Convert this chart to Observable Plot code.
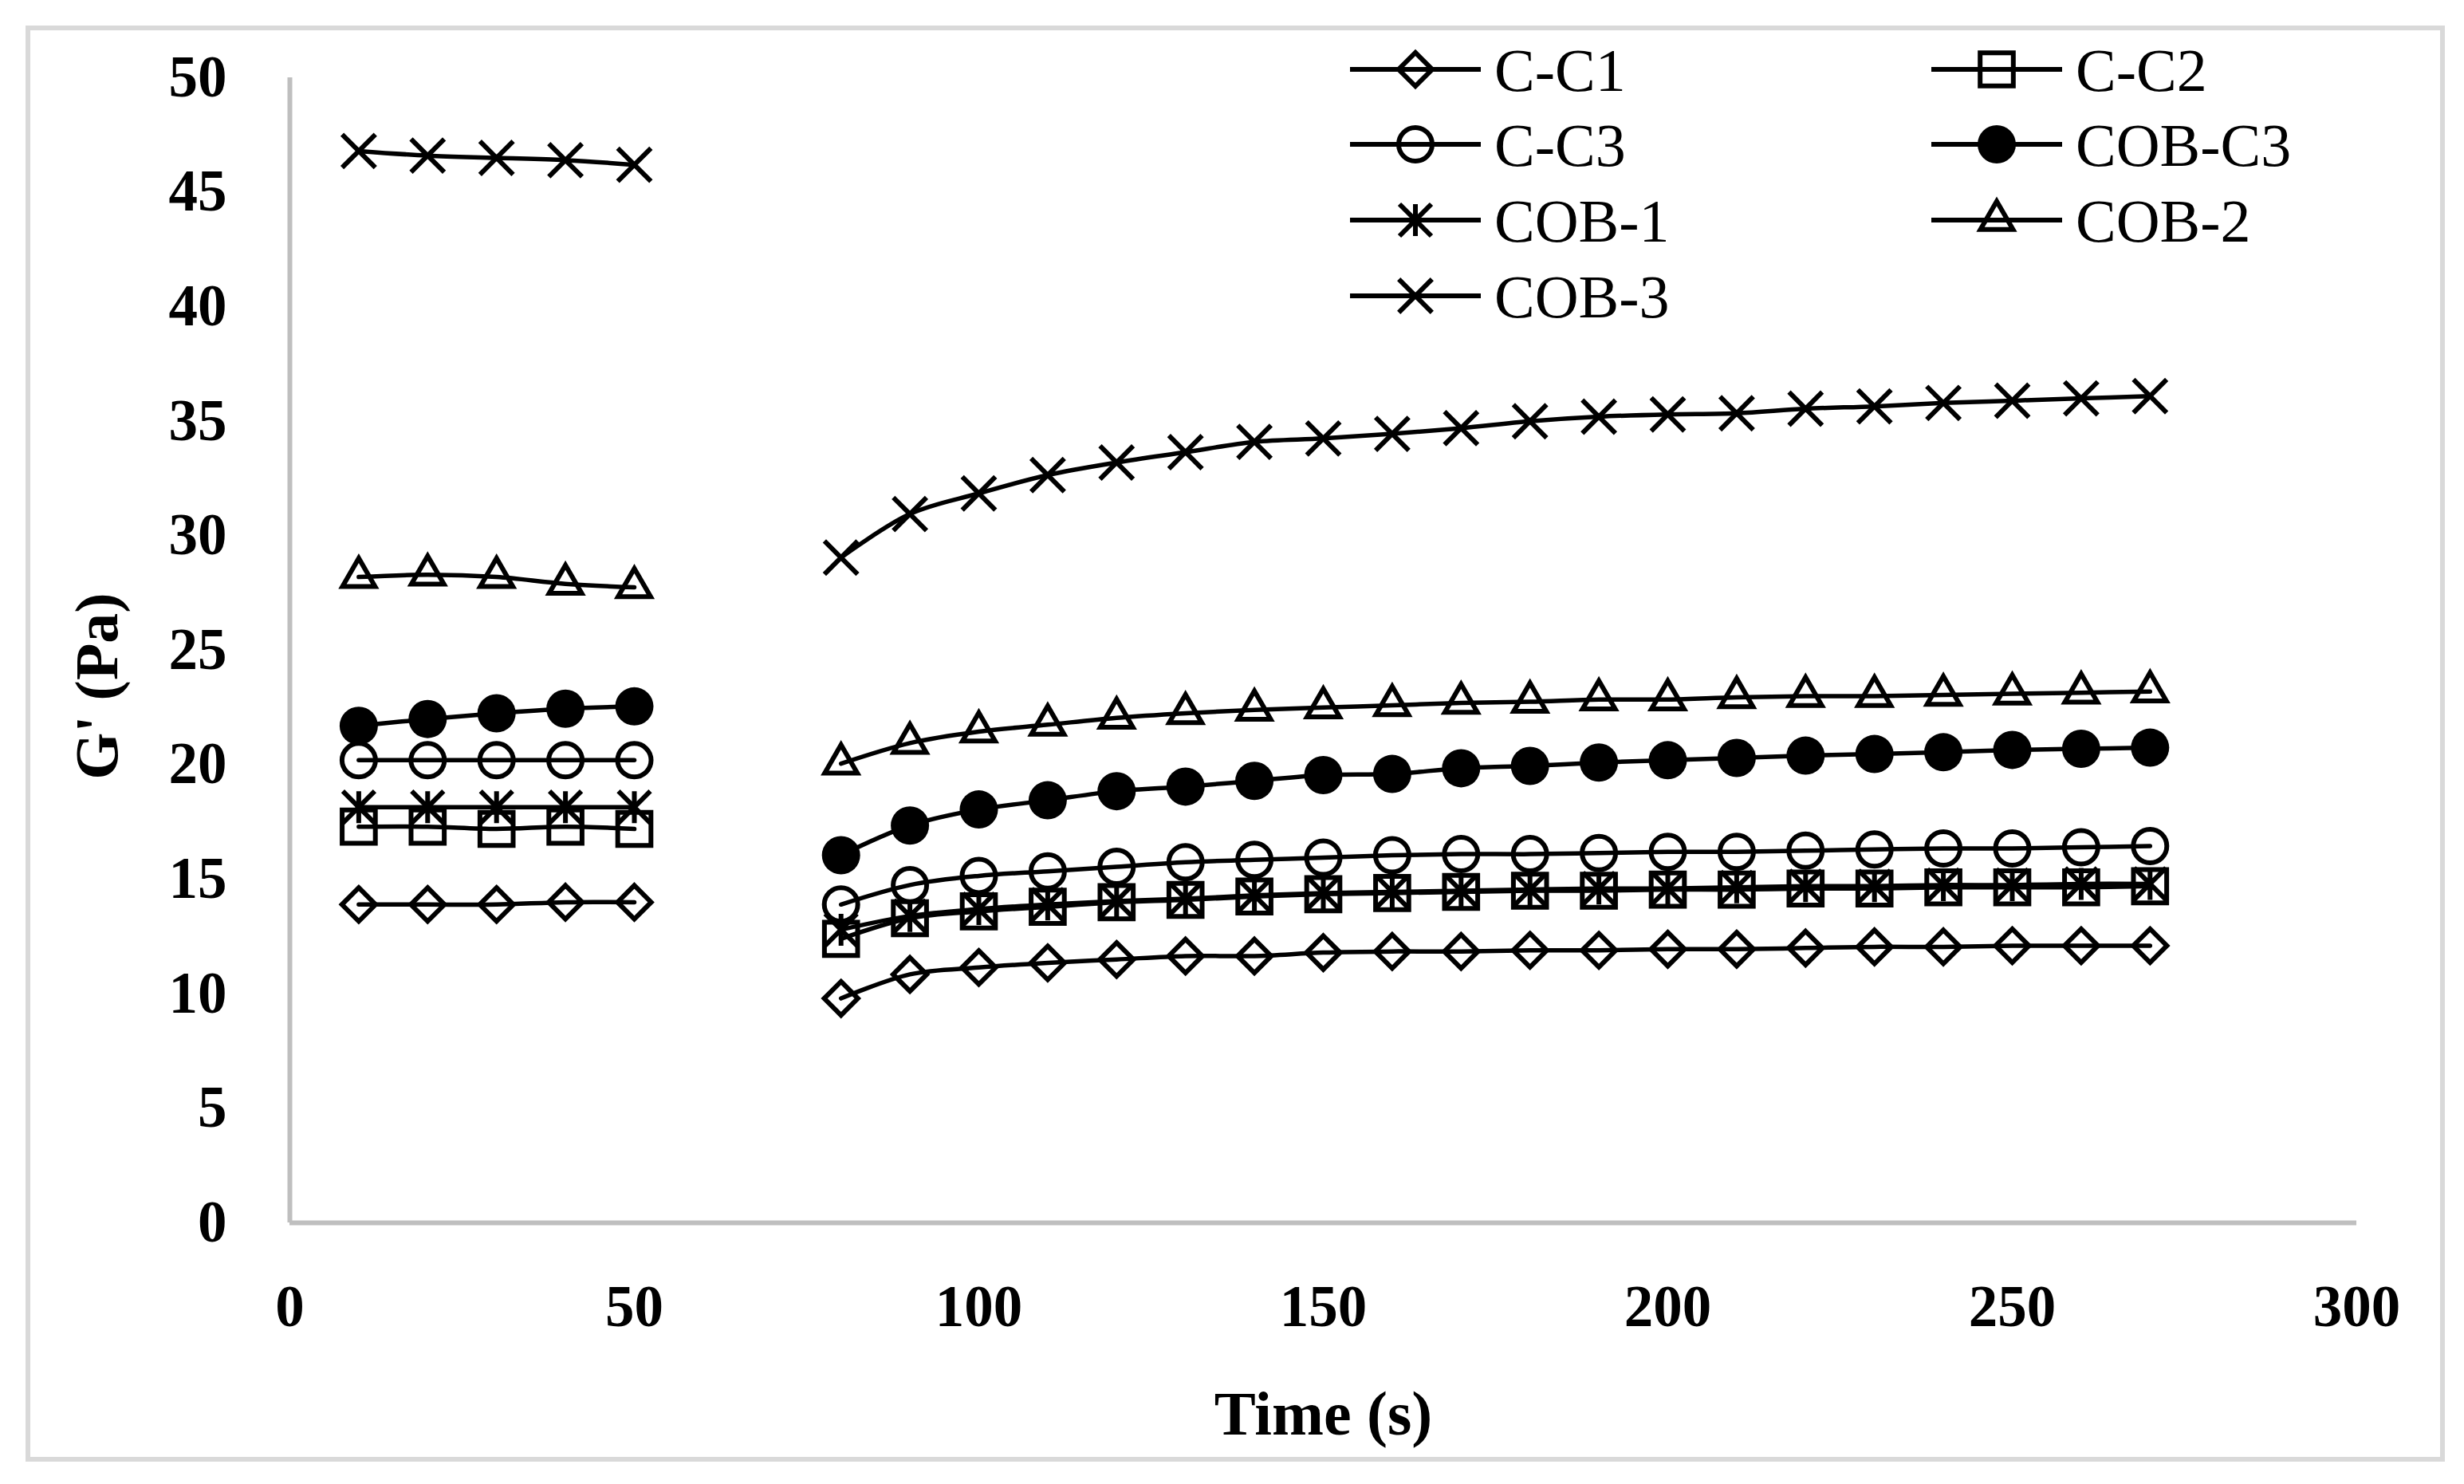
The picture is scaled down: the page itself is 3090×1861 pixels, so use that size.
<!DOCTYPE html>
<html>
<head>
<meta charset="utf-8">
<script src="https://cdn.jsdelivr.net/npm/d3@7"></script>
<script src="https://cdn.jsdelivr.net/npm/@observablehq/plot@0.6"></script>
<style>
  body { margin: 0; background: #fff; }
  #wrap { position: relative; width: 3090px; height: 1861px; }
  #border { position: absolute; left: 32px; top: 32px; width: 3022px; height: 1789px;
            border: 6px solid #d9d9d9; pointer-events: none; }
  #legend { position: absolute; left: 0; top: 0; pointer-events: none; }
</style>
</head>
<body>
<div id="wrap">
  <div id="chart"></div>
  <div id="border"></div>
</div>
<script>
// time points, two runs with a gap between them
const timesA = [10, 20, 30, 40, 50];
const timesB = [80, 90, 100, 110, 120, 130, 140, 150, 160, 170, 180, 190, 200, 210, 220, 230, 240, 250, 260, 270];

const seriesNames = ["C-C1", "C-C2", "C-C3", "COB-C3", "COB-1", "COB-2", "COB-3"];

// G' (Pa), first run
const cc1A   = [13.9, 13.9, 13.9, 14.0, 14.0];
const cc2A   = [17.3, 17.3, 17.2, 17.3, 17.2];
const cc3A   = [20.2, 20.2, 20.2, 20.2, 20.2];
const cobc3A = [21.7, 22.0, 22.25, 22.45, 22.55];
const cob1A  = [18.15, 18.15, 18.15, 18.15, 18.15];
const cob2A  = [28.2, 28.3, 28.2, 27.9, 27.75];
const cob3A  = [46.8, 46.6, 46.5, 46.4, 46.2];

// G' (Pa), second run
const cc1B   = [9.8, 10.85, 11.15, 11.35, 11.5, 11.65, 11.65, 11.8, 11.85, 11.85, 11.9, 11.9, 11.95, 11.95, 12.0, 12.05, 12.05, 12.1, 12.1, 12.1];
const cc2B   = [12.4, 13.3, 13.6, 13.8, 14.0, 14.1, 14.25, 14.35, 14.4, 14.45, 14.5, 14.5, 14.55, 14.55, 14.6, 14.6, 14.65, 14.65, 14.65, 14.7];
const cc3B   = [13.9, 14.75, 15.15, 15.35, 15.55, 15.75, 15.85, 15.95, 16.05, 16.1, 16.1, 16.15, 16.2, 16.2, 16.25, 16.3, 16.35, 16.35, 16.4, 16.45];
const cobc3B = [16.05, 17.35, 18.05, 18.45, 18.85, 19.05, 19.3, 19.55, 19.6, 19.85, 19.95, 20.1, 20.2, 20.3, 20.4, 20.47, 20.55, 20.65, 20.7, 20.75];
const cob1B  = [12.8, 13.4, 13.7, 13.9, 14.05, 14.15, 14.3, 14.4, 14.45, 14.5, 14.55, 14.6, 14.6, 14.65, 14.7, 14.7, 14.75, 14.75, 14.8, 14.8];
const cob2B  = [20.05, 20.95, 21.45, 21.75, 22.05, 22.25, 22.4, 22.5, 22.6, 22.7, 22.75, 22.85, 22.85, 22.95, 23.0, 23.0, 23.05, 23.1, 23.15, 23.2];
const cob3B  = [29.05, 30.95, 31.85, 32.65, 33.2, 33.65, 34.1, 34.25, 34.45, 34.7, 35.0, 35.2, 35.3, 35.35, 35.55, 35.65, 35.8, 35.9, 36.0, 36.1];

const xTicks = [0, 50, 100, 150, 200, 250, 300];
const yTicks = [0, 5, 10, 15, 20, 25, 30, 35, 40, 45, 50];

const valuesA = {"C-C1": cc1A, "C-C2": cc2A, "C-C3": cc3A, "COB-C3": cobc3A, "COB-1": cob1A, "COB-2": cob2A, "COB-3": cob3A};
const valuesB = {"C-C1": cc1B, "C-C2": cc2B, "C-C3": cc3B, "COB-C3": cobc3B, "COB-1": cob1B, "COB-2": cob2B, "COB-3": cob3B};

// excel style asterisk: a vertical bar plus an X
const excelStar = {
  draw(context, size) {
    const r = Math.sqrt(size / Math.PI);
    context.moveTo(0, -r); context.lineTo(0, r);
    context.moveTo(-r, -r); context.lineTo(r, r);
    context.moveTo(-r, r); context.lineTo(r, -r);
  }
};

// marker look per series
const markers = {
  "C-C1":   {symbol: "diamond2",  r: 19,   filled: false},
  "C-C2":   {symbol: "square2",   r: 26.5, filled: false},
  "C-C3":   {symbol: "circle",    r: 21,   filled: false},
  "COB-C3": {symbol: "circle",    r: 24,   filled: true},
  "COB-1":  {symbol: excelStar,   r: 20,   filled: false},
  "COB-2":  {symbol: "triangle2", r: 19.5, filled: false},
  "COB-3":  {symbol: "times",     r: 19,   filled: false}
};

const rows = [];
seriesNames.forEach(s => {
  timesA.forEach((t, i) => rows.push({series: s, run: "A", t, v: valuesA[s][i]}));
  timesB.forEach((t, i) => rows.push({series: s, run: "B", t, v: valuesB[s][i]}));
});

const marks = [
  Plot.ruleX([0], {stroke: "#bfbfbf", strokeWidth: 6}),
  Plot.ruleY([0], {stroke: "#bfbfbf", strokeWidth: 6}),
  Plot.axisX(xTicks, {tickSize: 0, tickPadding: 78, fontSize: 73, fontWeight: "bold", label: null}),
  Plot.axisY(yTicks, {tickSize: 0, tickPadding: 79, fontSize: 73, fontWeight: "bold", label: null}),
  Plot.text(["Time (s)"], {frameAnchor: "bottom", lineAnchor: "middle", dy: 241, fontSize: 78, fontWeight: "bold"}),
  Plot.text(["G' (Pa)"], {frameAnchor: "left", textAnchor: "middle", lineAnchor: "middle", rotate: -90, dx: -241, dy: 45, fontSize: 76, fontWeight: "bold"})
];

seriesNames.forEach(s => {
  const m = markers[s];
  const d = rows.filter(r => r.series === s);
  marks.push(Plot.line(d, {x: "t", y: "v", z: "run", curve: "catmull-rom", stroke: "black", strokeWidth: 5.5}));
  marks.push(Plot.dot(d, {
    x: "t", y: "v", symbol: m.symbol, r: m.r,
    fill: m.filled ? "black" : "none",
    stroke: m.filled ? "none" : "black",
    strokeWidth: 6
  }));
});

const chart = Plot.plot({
  width: 3090,
  height: 1861,
  marginLeft: 363,
  marginRight: 135,
  marginTop: 97,
  marginBottom: 328,
  x: {domain: [0, 300], label: null},
  y: {domain: [0, 50], label: null},
  style: {fontFamily: "'Liberation Serif', serif", background: "white", color: "black"},
  marks
});

d3.select("#chart").append(() => chart);

// legend, two columns in the upper right
const legendSvg = d3.select("#wrap").append("svg")
  .attr("id", "legend").attr("width", 3090).attr("height", 1861);

const d3Symbols = {
  diamond2: d3.symbolDiamond2, square2: d3.symbolSquare2, circle: d3.symbolCircle,
  triangle2: d3.symbolTriangle2, times: d3.symbolTimes
};
const colX = [1775, 2504];
const rowY = [87, 181, 276, 371];

seriesNames.forEach((s, i) => {
  const m = markers[s];
  const type = typeof m.symbol === "string" ? d3Symbols[m.symbol] : m.symbol;
  const cx = colX[i % 2], cy = rowY[Math.floor(i / 2)];
  const g = legendSvg.append("g").attr("transform", `translate(${cx},${cy})`);
  g.append("line").attr("x1", -82).attr("x2", 82).attr("stroke", "black").attr("stroke-width", 6);
  g.append("path")
    .attr("d", d3.symbol(type, Math.PI * m.r * m.r)())
    .attr("fill", m.filled ? "black" : "none")
    .attr("stroke", m.filled ? "none" : "black")
    .attr("stroke-width", 6);
  g.append("text").attr("x", 99).attr("dy", "0.35em")
    .attr("font-family", "'Liberation Serif', serif").attr("font-size", 76)
    .text(s);
});
</script>
</body>
</html>
